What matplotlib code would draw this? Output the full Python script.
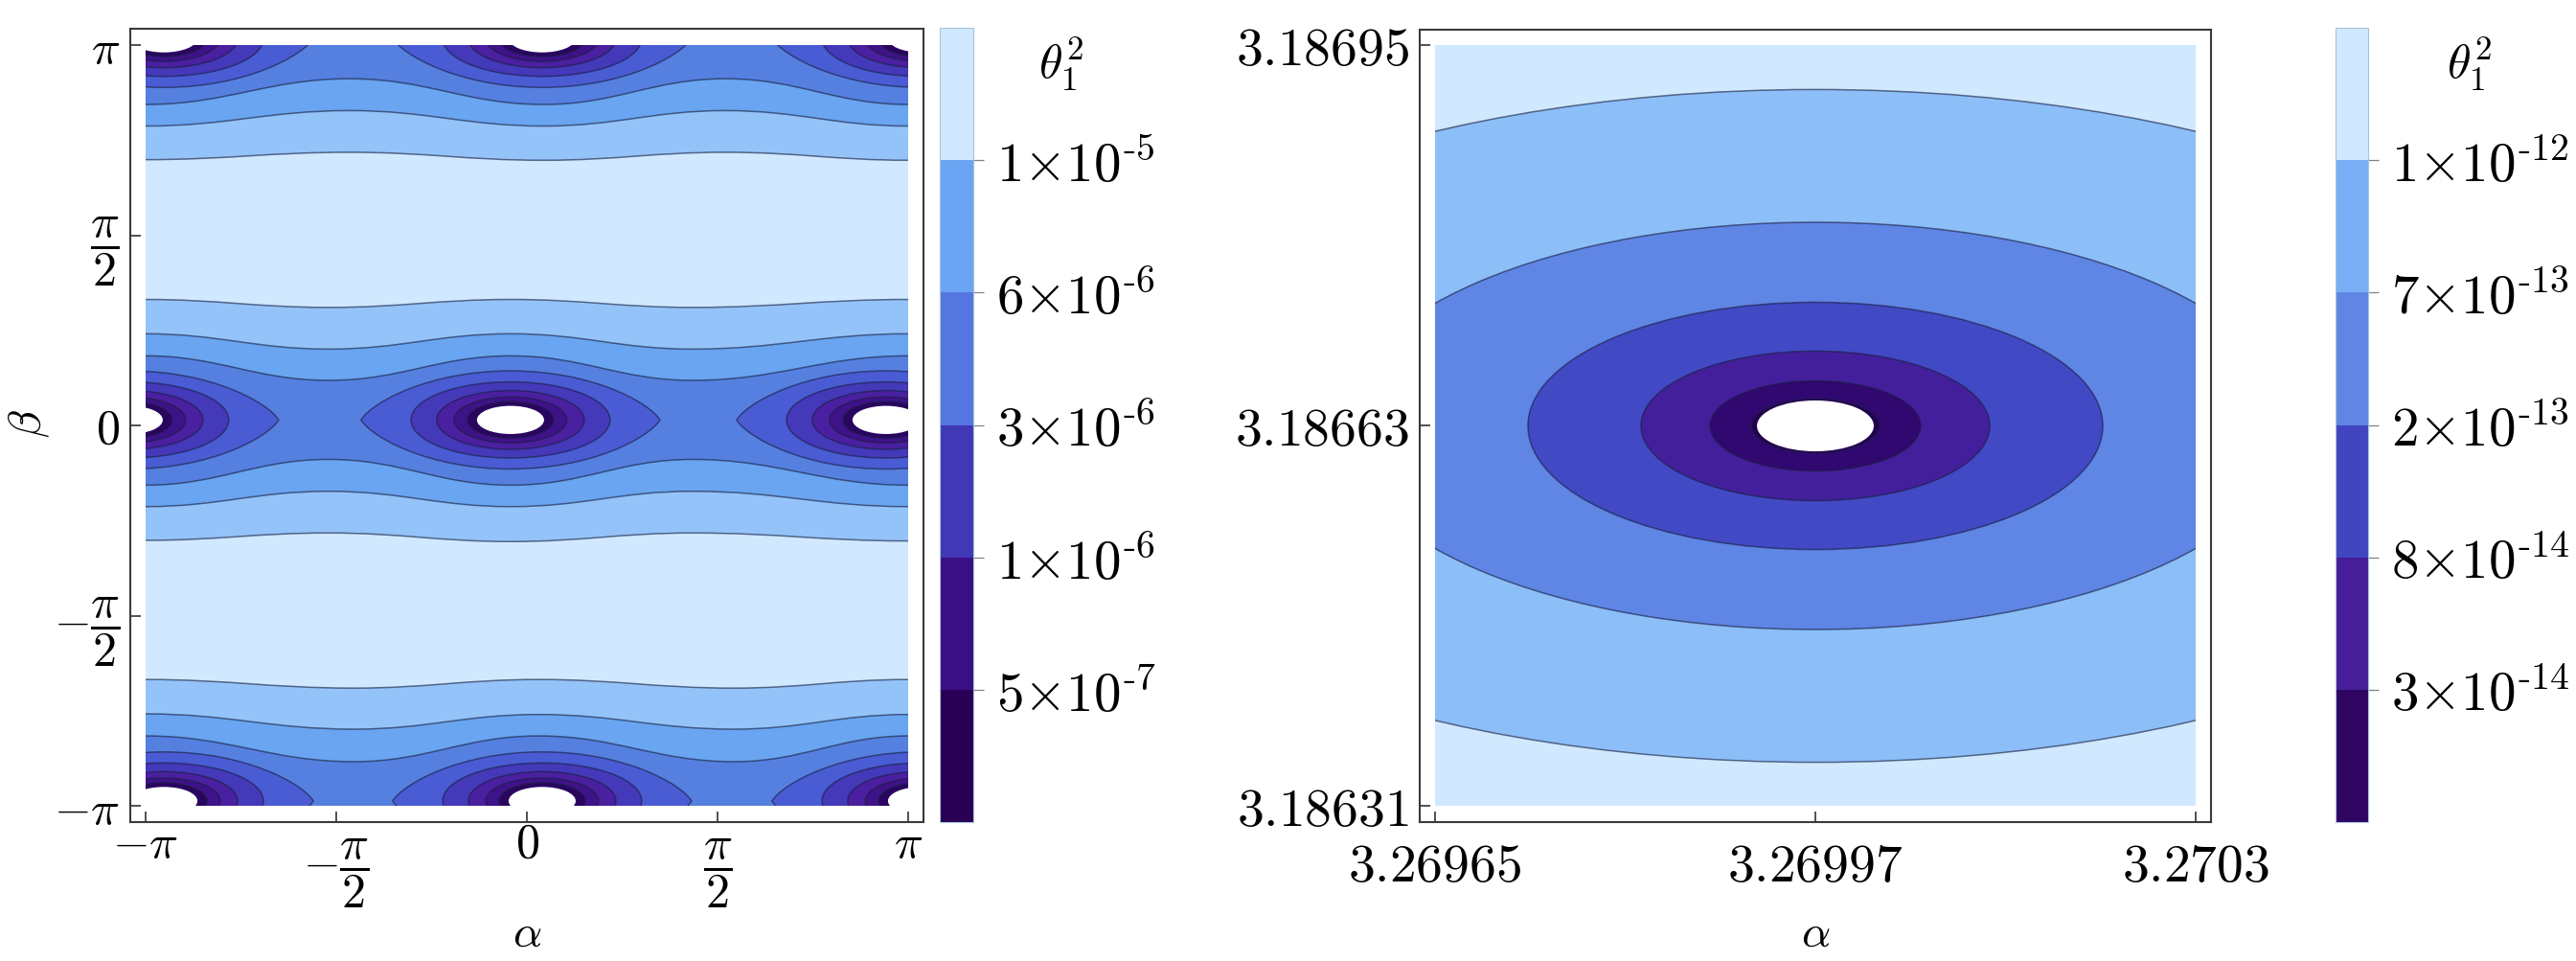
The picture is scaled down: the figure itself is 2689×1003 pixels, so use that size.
import numpy as np
import matplotlib
matplotlib.use("Agg")
import matplotlib.pyplot as plt
from matplotlib.path import Path
from matplotlib.patches import PathPatch, Ellipse, Rectangle
from matplotlib.colors import ListedColormap, BoundaryNorm
from matplotlib.cm import ScalarMappable

plt.rcParams['mathtext.fontset'] = 'cm'
plt.rcParams['font.family'] = ['cmr10', 'DejaVu Sans']
plt.rcParams['axes.formatter.use_mathtext'] = True

# ---------- left panel data (alpha and beta in units of pi) ----------
alpha_top = [-1.0, -0.465, 0.0444, 0.521, 1.0]
alpha_mid = [-1.0, -0.52, -0.042, 0.434, 1.0]
alpha_bot = [-1.0, -0.454, 0.03, 0.543, 1.0]

t1 = [0.6986, 0.718, 0.697, 0.718, 0.697]
t2 = [0.787, 0.8276, 0.787, 0.8276, 0.787]
t3 = [0.8437, 0.9114, 0.8437, 0.9114, 0.8437]
m1 = [0.3312, 0.3102, 0.3312, 0.3102, 0.3312]
m2 = [0.2409, 0.2006, 0.2409, 0.2006, 0.2409]
m3 = [0.1829, 0.1184, 0.1829, 0.1184, 0.1829]
m4 = [-0.1571, -0.0894, -0.1571, -0.0894, -0.1571]
m5 = [-0.2135, -0.1732, -0.2135, -0.1732, -0.2135]
m6 = [-0.3022, -0.2828, -0.3054, -0.2828, -0.3038]
b1 = [-0.668, -0.6906, -0.668, -0.6906, -0.668]
b2 = [-0.7583, -0.7986, -0.7599, -0.7986, -0.7599]
b3 = [-0.8163, -0.884, -0.8163, -0.884, -0.8163]

# minima of the field: centres of the ring families
centres_mid_alpha = [-1.043, -0.043, 0.942]
centres_mid_beta = 0.0144
centres_edge_alpha = [-0.952, 0.040, 1.035]
centres_top_beta = 1.0176
centres_bot_beta = -0.9874

# semi-axes of ring contours, outermost first (the first one is the lens)
ring_a = [0.392, 0.261, 0.1935, 0.148, 0.113, 0.088]
ring_b = [0.129, 0.100, 0.0773, 0.0605, 0.048, 0.037]
left_colors = ['#4A5CD3', '#4439B8', '#4A1FA0', '#3E1288', '#2A0560', 'white']
band_colors = ['#D0E9FF', '#93C3F9', '#69A5F0', '#5580E0']

left_bar_colors = ['#2A0055', '#3A0F85', '#4038B5', '#5576DE', '#6AA5F3', '#D0E9FF']
left_bar_bounds = [2e-7, 5e-7, 1e-6, 3e-6, 6e-6, 1e-5, 2e-5]
left_bar_labels = [r'$5{\times}10^{\text{-}7}$', r'$1{\times}10^{\text{-}6}$',
                   r'$3{\times}10^{\text{-}6}$', r'$6{\times}10^{\text{-}6}$',
                   r'$1{\times}10^{\text{-}5}$']

# ---------- right panel data ----------
right_cx = 3.2699750
right_cy = 3.18663
right_a = [6.73e-4, 4.07e-4, 2.456e-4, 1.49e-4, 9.0e-5, 5.48e-5, 4.99e-5]
right_b = [2.83e-4, 1.713e-4, 1.04e-4, 6.29e-5, 3.79e-5, 2.26e-5, 2.14e-5]
right_colors = ['#8CBEF8', '#5F85E5', '#4249C5', '#431F9C', '#300870', '#24004F', 'white']
right_xticks = [3.26965, 3.269975, 3.2703]
right_xlabels = ['3.26965', '3.26997', '3.2703']
right_yticks = [3.18631, 3.18663, 3.18695]
right_ylabels = ['3.18631', '3.18663', '3.18695']
right_bar_colors = ['#2E0560', '#451E98', '#4245C0', '#5F85E5', '#7AAEF5', '#D0E9FF']
right_bar_bounds = [1e-14, 3e-14, 8e-14, 2e-13, 7e-13, 1e-12, 2e-12]
right_bar_labels = [r'$3{\times}10^{\text{-}14}$', r'$8{\times}10^{\text{-}14}$',
                    r'$2{\times}10^{\text{-}13}$', r'$7{\times}10^{\text{-}13}$',
                    r'$1{\times}10^{\text{-}12}$']

W, H = 2689, 1004
fig = plt.figure(figsize=(W / 100, H / 100), dpi=100, facecolor='white')


def axes_px(x0, y0, x1, y1):
    return fig.add_axes([x0 / W, 1 - y1 / H, (x1 - x0) / W, (y1 - y0) / H])


def wave(xs, ys):
    """Smooth curve through extrema, flat at each of them."""
    xs = np.asarray(xs) * np.pi
    ys = np.asarray(ys) * np.pi
    verts = [(xs[0], ys[0])]
    for i in range(len(xs) - 1):
        dx = (xs[i + 1] - xs[i]) * 0.4
        verts += [(xs[i] + dx, ys[i]), (xs[i + 1] - dx, ys[i + 1]), (xs[i + 1], ys[i + 1])]
    return verts


LINE = (0.1, 0.12, 0.25, 0.62)


def close_path(verts_a, verts_b=None, edge=None):
    codes = [Path.MOVETO] + [Path.CURVE4] * (len(verts_a) - 1)
    v = list(verts_a)
    if verts_b is not None:
        v += [verts_b[-1]]
        codes += [Path.LINETO]
        rev = list(verts_b[::-1])
        v += rev[1:]
        codes += [Path.CURVE4] * (len(rev) - 1)
    else:
        v += [(edge[0], edge[1]), (edge[2], edge[3])]
        codes += [Path.LINETO, Path.LINETO]
    v += [v[0]]
    codes += [Path.CLOSEPOLY]
    return Path(v, codes)


def add_clipped(axis, patch, x0, x1, y0, y1):
    axis.add_patch(patch)
    patch.set_clip_path(Path([(x0, y0), (x1, y0), (x1, y1), (x0, y1), (x0, y0)]), axis.transData)


def draw_frame(ax):
    for s in ax.spines.values():
        s.set_color('#3a3a3a')
        s.set_linewidth(1.5)
    ax.tick_params(which='both', direction='in', length=8, width=1.1, color='#222222',
                   top=False, right=False)


# ---------- left ----------
ax = axes_px(136, 31, 964, 859)
ax.set_xlim(-np.pi * 414 / 398, np.pi * 414 / 398)
ax.set_ylim(-np.pi * 414 / 397, np.pi * 414 / 397)
P = np.pi
ax.add_patch(Rectangle((-P, -P), 2 * P, 2 * P, fc=band_colors[0], ec='none'))

bands = [
    (close_path(wave(alpha_top, t1), edge=(P, P, -P, P)), band_colors[1]),
    (close_path(wave(alpha_top, t2), edge=(P, P, -P, P)), band_colors[2]),
    (close_path(wave(alpha_top, t3), edge=(P, P, -P, P)), band_colors[3]),
    (close_path(wave(alpha_mid, m1), wave(alpha_mid, m6)), band_colors[1]),
    (close_path(wave(alpha_mid, m2), wave(alpha_mid, m5)), band_colors[2]),
    (close_path(wave(alpha_mid, m3), wave(alpha_mid, m4)), band_colors[3]),
    (close_path(wave(alpha_bot, b1), edge=(P, -P, -P, -P)), band_colors[1]),
    (close_path(wave(alpha_bot, b2), edge=(P, -P, -P, -P)), band_colors[2]),
    (close_path(wave(alpha_bot, b3), edge=(P, -P, -P, -P)), band_colors[3]),
]
for path, col in bands:
    add_clipped(ax, PathPatch(path, fc=col, ec='none'), -P, P, -P, P)
for xs, ys in [(alpha_top, t1), (alpha_top, t2), (alpha_top, t3),
               (alpha_mid, m1), (alpha_mid, m2), (alpha_mid, m3),
               (alpha_mid, m4), (alpha_mid, m5), (alpha_mid, m6),
               (alpha_bot, b1), (alpha_bot, b2), (alpha_bot, b3)]:
    v = wave(xs, ys)
    add_clipped(ax, PathPatch(Path(v, [Path.MOVETO] + [Path.CURVE4] * (len(v) - 1)),
                              fc='none', ec=LINE, lw=1.1), -P, P, -P, P)


def lens_path(cx, cy, a, b):
    pts = [(0, b), (.55 * a, b), (.93 * a, .35 * b), (a, 0),
           (.93 * a, -.35 * b), (.55 * a, -b), (0, -b),
           (-.55 * a, -b), (-.93 * a, -.35 * b), (-a, 0),
           (-.93 * a, .35 * b), (-.55 * a, b), (0, b)]
    v = [(cx + x, cy + y) for x, y in pts]
    return Path(v, [Path.MOVETO] + [Path.CURVE4] * 12)


centres = [(c, centres_mid_beta) for c in centres_mid_alpha]
centres += [(c, centres_top_beta) for c in centres_edge_alpha]
centres += [(c, centres_bot_beta) for c in centres_edge_alpha]
for cx, cy in centres:
    for i, (ra, rb, col) in enumerate(zip(ring_a, ring_b, left_colors)):
        if i == 0:
            p = PathPatch(lens_path(cx * P, cy * P, ra * P, rb * P), fc=col, ec=LINE, lw=1.1)
        else:
            p = Ellipse((cx * P, cy * P), 2 * ra * P, 2 * rb * P, fc=col,
                        ec=LINE if col != 'white' else 'none', lw=1.1)
        if col == 'white':
            ax.add_patch(p)
            p.set_clip_path(Path([(-P, -1.05 * P), (P, -1.05 * P), (P, 1.05 * P), (-P, 1.05 * P), (-P, -1.05 * P)]),
                            ax.transData)
        else:
            add_clipped(ax, p, -P, P, -P, P)

draw_frame(ax)
ax.set_xticks([-P / 2, P / 2])
ax.set_xticklabels([r'$-\dfrac{\pi}{2}$', r'$\dfrac{\pi}{2}$'], fontsize=36, va='center')
ax.set_xticks([-P, 0, P], minor=True)
ax.set_xticklabels([r'$-\pi$', r'$0$', r'$\pi$'], minor=True, fontsize=36, va='baseline')
ax.set_yticks([-P, -P / 2, 0, P / 2, P])
ax.set_yticklabels([r'$-\pi$', r'$-\dfrac{\pi}{2}$', r'$0$', r'$\dfrac{\pi}{2}$', r'$\pi$'], fontsize=36)
ax.tick_params(axis='x', which='major', pad=38)
ax.tick_params(axis='x', which='minor', pad=26)
ax.tick_params(axis='y', pad=8)
fig.text(550 / W, 1 - 976 / H, r'$\alpha$', fontsize=34, ha='center', va='center')
fig.text(30 / W, 1 - 442 / H, r'$\beta$', fontsize=34, ha='center', va='center', rotation=90)


def colorbar(x0, x1, colors, bounds, labels, title_x):
    cax = axes_px(x0, 30, x1, 859)
    cmap = ListedColormap(colors)
    norm = BoundaryNorm(bounds, cmap.N)
    cb = fig.colorbar(ScalarMappable(norm=norm, cmap=cmap), cax=cax,
                      spacing='uniform', ticks=bounds[1:-1], drawedges=False)
    cb.set_ticklabels(labels)
    cb.minorticks_off()
    cb.outline.set_edgecolor('#a8c4dc')
    cb.outline.set_linewidth(0.8)
    cax.tick_params(axis='y', length=8, width=0.9, color='#808080', direction='out',
                    labelsize=41, pad=9)
    fig.text(title_x / W, 1 - 67 / H, r'$\theta_1^2$', fontsize=36, ha='center', va='center')


colorbar(981, 1016, left_bar_colors, left_bar_bounds, left_bar_labels, 1108)

# ---------- right ----------
ax2 = axes_px(1482, 32, 2308, 859)
hx = 0.000325 * 413 / 397
hy = 0.00032 * 413.5 / 397
ax2.set_xlim(right_cx - hx, right_cx + hx)
ax2.set_ylim(right_cy - hy, right_cy + hy)
xa, xb, ya, yb = right_xticks[0], right_xticks[-1], right_yticks[0], right_yticks[-1]
ax2.add_patch(Rectangle((xa, ya), xb - xa, yb - ya, fc='#D0E9FF', ec='none'))
for ra, rb, col in zip(right_a, right_b, right_colors):
    e = Ellipse((right_cx, right_cy), 2 * ra, 2 * rb, fc=col,
                ec=LINE if col != 'white' else 'none', lw=1.1)
    add_clipped(ax2, e, xa, xb, ya, yb)
draw_frame(ax2)
ax2.set_xticks(right_xticks)
ax2.set_xticklabels(['$%s$' % s for s in right_xlabels], fontsize=40)
ax2.set_yticks(right_yticks)
ax2.set_yticklabels(['$%s$' % s for s in right_ylabels], fontsize=40)
ax2.tick_params(axis='x', pad=16)
ax2.tick_params(axis='y', pad=8)
fig.text(1895 / W, 1 - 976 / H, r'$\alpha$', fontsize=34, ha='center', va='center')
colorbar(2438, 2472, right_bar_colors, right_bar_bounds, right_bar_labels, 2578)

fig.savefig('out.png', dpi=100, facecolor='white')
